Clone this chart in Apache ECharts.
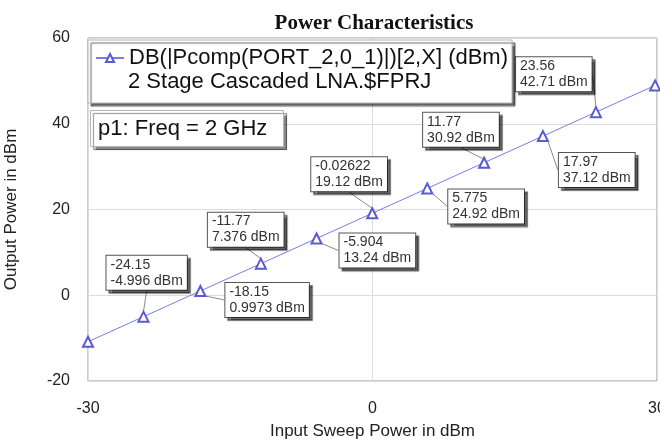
<!DOCTYPE html>
<html>
<head>
<meta charset="utf-8">
<script src="https://cdn.jsdelivr.net/npm/echarts@6/dist/echarts.min.js"></script>
<style>html,body{margin:0;padding:0;background:#fff}#c{width:660px;height:441px}</style>
</head>
<body>
<div id="c"></div>
<script>
// ---- data ----
const seriesName = 'DB(|Pcomp(PORT_2,0_1)|)[2,X] (dBm)';
const seriesSource = '2 Stage Cascaded LNA.$FPRJ';
const markerNote = 'p1: Freq = 2 GHz';
const inputPower = [-30, -24.15, -18.15, -11.77, -5.904, -0.02622, 5.775, 11.77, 17.97, 23.56, 29.8];
const outputPower = [-10.85, -4.996, 0.9973, 7.376, 13.24, 19.12, 24.92, 30.92, 37.12, 42.71, 48.95];
const annotated = [false, true, true, true, true, true, true, true, true, true, false];
const xTicks = [-30, 0, 30];
const yTicks = [-20, 0, 20, 40, 60];

// ---- layout (label box offsets from point, px) ----
const labelOffsets = [null, [-37, -61], [25, -8], [-53, -51], [23, -5], [-61, -56], [21, 1], [-61, -50], [16, 17], [-80, -55], null];

const FONT = "'Liberation Sans', Arial, sans-serif";
const data = inputPower.map((x, i) => ({
  value: [x, outputPower[i]],
  label: { show: annotated[i] }
}));

const chart = echarts.init(document.getElementById('c'), null, { renderer: 'canvas' });
chart.setOption({
  animation: false,
  backgroundColor: '#fff',
  title: {
    text: 'Power Characteristics',
    left: 369, top: 8, textAlign: 'center',
    textStyle: { fontFamily: "'Liberation Serif', 'Times New Roman', serif", fontWeight: 'bold', fontSize: 21, color: '#111' }
  },
  grid: { left: 88, right: 3, top: 38, bottom: 60, show: true, borderColor: '#999', borderWidth: 1, containLabel: false, outerBoundsMode: 'none' },
  legend: {
    data: [seriesName],
    left: 88, top: 40,
    padding: [6, 4, 33, 7],
    itemWidth: 28, itemHeight: 10,
    backgroundColor: '#fff', borderColor: '#b5b5b5', borderWidth: 1,
    shadowColor: 'rgba(0,0,0,0.6)', shadowOffsetX: 3, shadowOffsetY: 3, shadowBlur: 1,
    textStyle: { fontFamily: FONT, fontSize: 22, color: '#111', lineHeight: 24 },
    selectedMode: false, z: 10
  },
  xAxis: {
    type: 'value', min: xTicks[0], max: xTicks[xTicks.length - 1], interval: 30,
    name: 'Input Sweep Power in dBm', nameLocation: 'middle', nameGap: 42,
    nameTextStyle: { fontFamily: FONT, fontSize: 17, color: '#222' },
    axisLine: { show: false }, axisTick: { show: false },
    axisLabel: { fontFamily: FONT, fontSize: 16, color: '#222', margin: 20 },
    splitLine: { show: true, lineStyle: { color: '#dcdcdc', width: 1 } }
  },
  yAxis: {
    type: 'value', min: yTicks[0], max: yTicks[yTicks.length - 1], interval: 20,
    name: 'Output Power in dBm', nameLocation: 'middle', nameGap: 68, nameRotate: 90,
    nameTextStyle: { fontFamily: FONT, fontSize: 17, color: '#222' },
    axisLine: { show: false }, axisTick: { show: false },
    axisLabel: { fontFamily: FONT, fontSize: 16, color: '#222', margin: 18 },
    splitLine: { show: true, lineStyle: { color: '#dcdcdc', width: 1 } }
  },
  series: [{
    name: seriesName,
    type: 'line',
    data: data,
    symbol: 'emptyTriangle',
    symbolSize: 10,
    showAllSymbol: true,
    itemStyle: { color: '#5a5ad2', borderWidth: 1 },
    lineStyle: { color: '#7c7ce6', width: 1 },
    label: {
      show: false,
      formatter: p => p.value[0] + '\n' + p.value[1] + ' dBm',
      fontFamily: FONT, fontSize: 14, lineHeight: 16, color: '#333',
      backgroundColor: '#fff', borderColor: '#555', borderWidth: 1,
      padding: [1, 4, 1, 4],
      shadowColor: 'rgba(0,0,0,0.55)', shadowOffsetX: 3, shadowOffsetY: 3, shadowBlur: 1
    },
    labelLine: { show: true, lineStyle: { color: '#8a8a8a', width: 1 } },
    labelLayout: function (params) {
      const o = labelOffsets[params.dataIndex];
      if (!o) return {};
      const cx = params.rect.x + params.rect.width / 2;
      const cy = params.rect.y + params.rect.height / 2;
      return { x: cx + o[0], y: cy + o[1], align: 'left', verticalAlign: 'top' };
    },
    z: 5
  }],
  graphic: [
    { type: 'text', left: 128, top: 71, z: 100,
      style: { text: seriesSource, font: "22px 'Liberation Sans', Arial, sans-serif", fill: '#111' } },
    { type: 'rect', left: 90, top: 110, z: 100,
      shape: { x: 0, y: 0, width: 193, height: 36 },
      style: { fill: '#fff', stroke: '#b5b5b5', lineWidth: 1, shadowColor: 'rgba(0,0,0,0.45)', shadowOffsetX: 3, shadowOffsetY: 3, shadowBlur: 1 } },
    { type: 'text', left: 98, top: 118, z: 101,
      style: { text: markerNote, font: "22px 'Liberation Sans', Arial, sans-serif", fill: '#111' } }
  ]
});
</script>
</body>
</html>
